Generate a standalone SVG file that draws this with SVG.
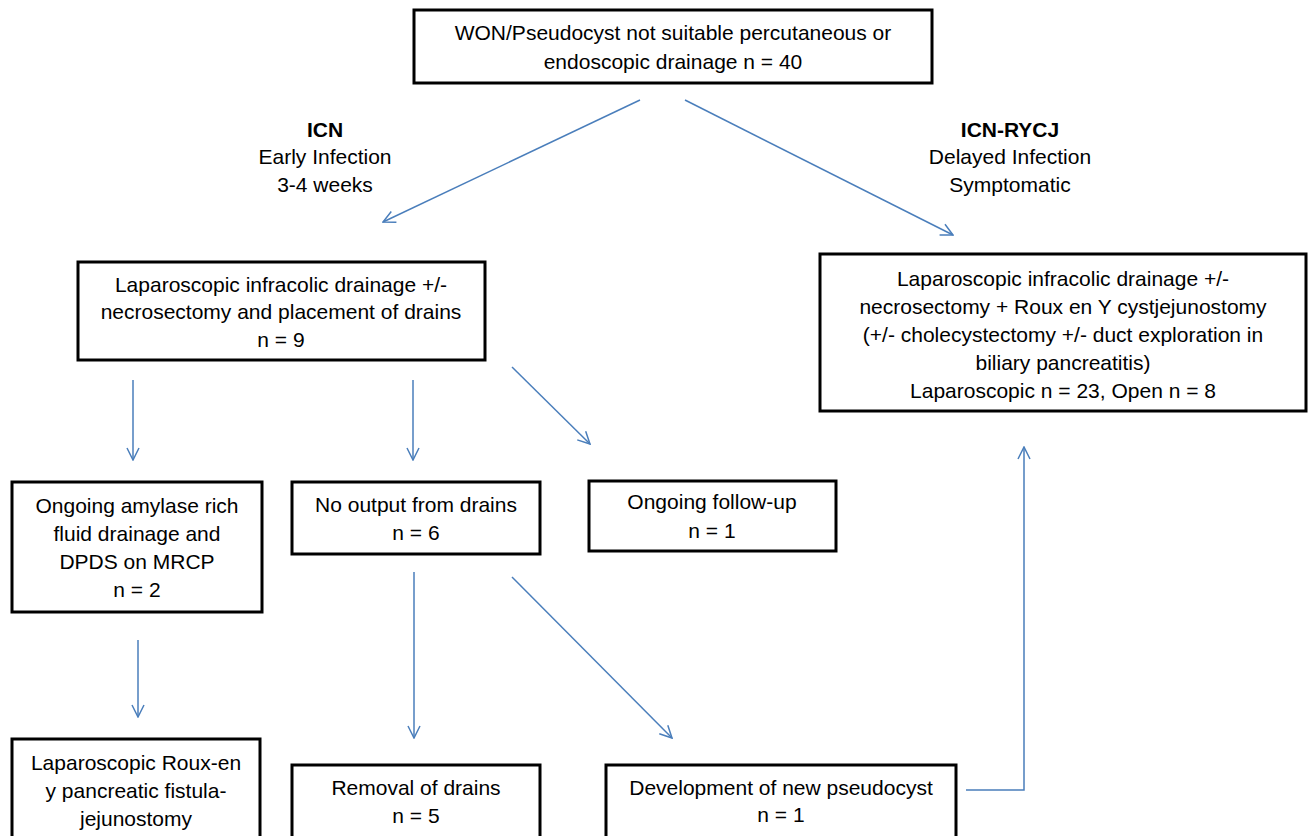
<svg xmlns="http://www.w3.org/2000/svg" width="1309" height="836" viewBox="0 0 1309 836">
<defs>
<style>
.box{fill:#fff;stroke:#000;stroke-width:3}
.t{font-family:"Liberation Sans",Arial,sans-serif;font-size:21px;fill:#000;text-anchor:middle}
.b{font-weight:bold}
.c{fill:none;stroke:#4a7ebb;stroke-width:1.5}
</style>
<marker id="ah" viewBox="0 0 14 14" refX="13" refY="7" markerWidth="14" markerHeight="14" markerUnits="userSpaceOnUse" orient="auto">
<path d="M1,1 L13,7 L1,13" fill="none" stroke="#4a7ebb" stroke-width="1.5"/>
</marker>
</defs>
<rect width="1309" height="836" fill="#fff"/>
<g id="connectors">
<line class="c" x1="640" y1="100" x2="383" y2="222" marker-end="url(#ah)"/>
<line class="c" x1="685" y1="100" x2="953" y2="235" marker-end="url(#ah)"/>
<line class="c" x1="133" y1="380" x2="133" y2="460" marker-end="url(#ah)"/>
<line class="c" x1="413" y1="380" x2="413" y2="460" marker-end="url(#ah)"/>
<line class="c" x1="512" y1="367" x2="590" y2="444" marker-end="url(#ah)"/>
<line class="c" x1="138" y1="640" x2="138" y2="717" marker-end="url(#ah)"/>
<line class="c" x1="414" y1="572" x2="414" y2="738" marker-end="url(#ah)"/>
<line class="c" x1="512" y1="577" x2="672" y2="738" marker-end="url(#ah)"/>
<polyline class="c" points="966,790 1024,790 1024,447" marker-end="url(#ah)"/>
</g>
<g id="lbl-icn">
<text class="t b" x="325" y="137">ICN</text>
<text class="t" x="325" y="164">Early Infection</text>
<text class="t" x="325" y="192">3-4 weeks</text>
</g>
<g id="lbl-rycj">
<text class="t b" x="1010" y="137">ICN-RYCJ</text>
<text class="t" x="1010" y="164">Delayed Infection</text>
<text class="t" x="1010" y="192">Symptomatic</text>
</g>
<g id="n-top">
<rect class="box" x="414" y="10" width="518" height="73"/>
<text class="t" x="673" y="40">WON/Pseudocyst not suitable percutaneous or</text>
<text class="t" x="673" y="69">endoscopic drainage n = 40</text>
</g>
<g id="n-lap">
<rect class="box" x="78" y="262" width="407" height="98"/>
<text class="t" x="281" y="292">Laparoscopic infracolic drainage +/-</text>
<text class="t" x="281" y="319">necrosectomy and placement of drains</text>
<text class="t" x="281" y="347">n = 9</text>
</g>
<g id="n-roux">
<rect class="box" x="820" y="254" width="486" height="157"/>
<text class="t" x="1063" y="286">Laparoscopic infracolic drainage +/-</text>
<text class="t" x="1063" y="314">necrosectomy + Roux en Y cystjejunostomy</text>
<text class="t" x="1063" y="342">(+/- cholecystectomy +/- duct exploration in</text>
<text class="t" x="1063" y="370">biliary pancreatitis)</text>
<text class="t" x="1063" y="398">Laparoscopic n = 23, Open n = 8</text>
</g>
<g id="n-amylase">
<rect class="box" x="12" y="482" width="250" height="130"/>
<text class="t" x="137" y="513">Ongoing amylase rich</text>
<text class="t" x="137" y="541">fluid drainage and</text>
<text class="t" x="137" y="569">DPDS on MRCP</text>
<text class="t" x="137" y="597">n = 2</text>
</g>
<g id="n-nooutput">
<rect class="box" x="292" y="482" width="248" height="72"/>
<text class="t" x="416" y="512">No output from drains</text>
<text class="t" x="416" y="540">n = 6</text>
</g>
<g id="n-followup">
<rect class="box" x="589" y="481" width="247" height="70"/>
<text class="t" x="712" y="509">Ongoing follow-up</text>
<text class="t" x="712" y="538">n = 1</text>
</g>
<g id="n-fistula">
<rect class="box" x="12" y="739" width="248" height="110"/>
<text class="t" x="136" y="770">Laparoscopic Roux-en</text>
<text class="t" x="136" y="798">y pancreatic fistula-</text>
<text class="t" x="136" y="826">jejunostomy</text>
</g>
<g id="n-removal">
<rect class="box" x="292" y="765" width="248" height="90"/>
<text class="t" x="416" y="795">Removal of drains</text>
<text class="t" x="416" y="823">n = 5</text>
</g>
<g id="n-newcyst">
<rect class="box" x="606" y="765" width="350" height="90"/>
<text class="t" x="781" y="795">Development of new pseudocyst</text>
<text class="t" x="781" y="822">n = 1</text>
</g>
</svg>
